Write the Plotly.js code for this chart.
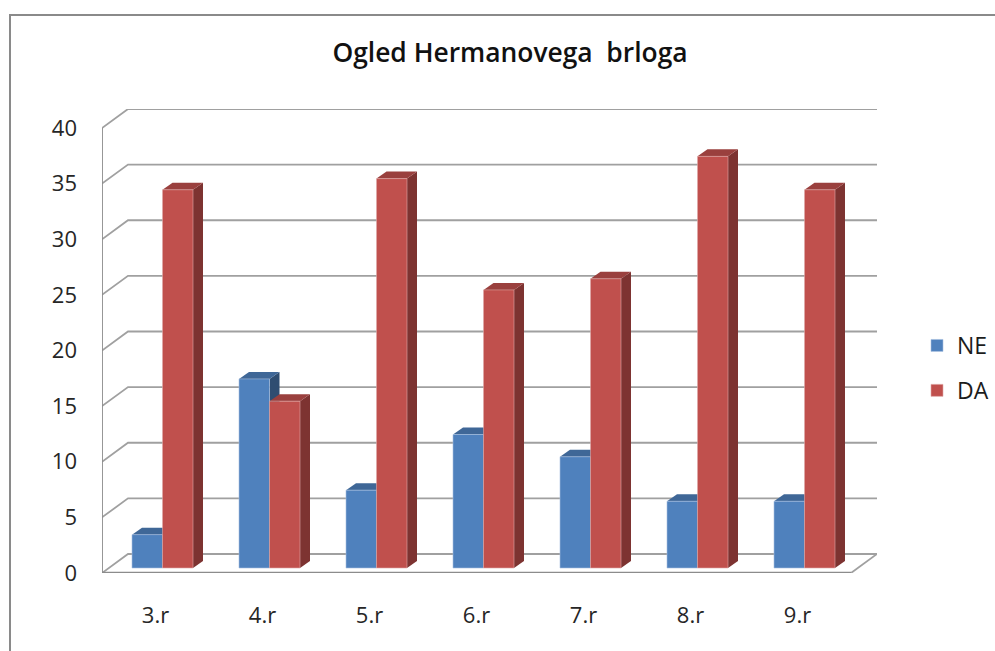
<!DOCTYPE html>
<html>
<head>
<meta charset="utf-8">
<script src="https://cdn.plot.ly/plotly-3.0.1.min.js"></script>
<style>html,body{margin:0;padding:0;background:#fff}#c{width:995px;height:651px}</style>
</head>
<body>
<div id="c"></div>
<script>
const categories = ["3.r","4.r","5.r","6.r","7.r","8.r","9.r"];
const neValues = [3,17,7,12,10,6,6];
const daValues = [34,15,35,25,26,37,34];
const yTicks = [0,5,10,15,20,25,30,35,40];

const W = 995, H = 651;
const plotL = 102, plotR = 877, plotT = 109, plotB = 573;
const pxPerCat = 107, pxPerUnit = 11.125;
const wallDX = 26 / pxPerCat, wallDY = 19 / pxPerUnit;
const barW = 30.5 / pxPerCat, barLift = 5 / pxPerUnit;
const barDX = 10 / pxPerCat, barDY = 7 / pxPerUnit;
const offNE = -23.5 / pxPerCat, offDA = offNE + barW;
const xMin = -0.5, xFront = categories.length - 0.5, xMax = xFront + wallDX;
const yMax = (plotB - plotT) / pxPerUnit;
const xIdx = categories.map((_, i) => i);

const gridCol = '#a0a0a0', axisCol = '#8c8c8c';
const shapes = [];
function poly(pts, fill) {
  shapes.push({type:'path', layer:'below', xref:'x', yref:'y', line:{width:0}, fillcolor:fill,
    path:'M' + pts.map(p => p[0] + ',' + p[1]).join('L') + 'Z'});
}
function pline(pts, col, w) {
  shapes.push({type:'path', layer:'below', xref:'x', yref:'y', line:{color:col, width:w},
    path:'M' + pts.map(p => p[0] + ',' + p[1]).join('L')});
}
// back wall gridlines with the side-wall diagonal
yTicks.forEach(v => pline([[xMin, v],[xMin + wallDX, v + wallDY],[xMax, v + wallDY]], gridCol, 1.8));
// floor right edge, front edge and left edge
pline([[xFront, 0],[xMax, wallDY]], gridCol, 1.8);
pline([[xMin, 0],[xFront, 0]], axisCol, 2.6);
pline([[xMin, 0],[xMin, yTicks[yTicks.length-1]]], axisCol, 1.8);

// depth faces of the bars
function depth(values, off, topCol, sideCol) {
  values.forEach((v, i) => {
    const x0 = i + off, x1 = x0 + barW, t = v + barLift;
    poly([[x1, barLift],[x1 + barDX, barLift + barDY],[x1 + barDX, t + barDY],[x1, t]], sideCol);
    poly([[x0, t],[x0 + barDX, t + barDY],[x1 + barDX, t + barDY],[x1, t]], topCol);
  });
}
depth(neValues, offNE, '#3f6797', '#2f4d71');
depth(daValues, offDA, '#9a403e', '#7d3331');

// chart frame (top and left only)
const fx = px => (px - plotL) / (plotR - plotL);
const fy = py => (plotB - py) / (plotB - plotT);
shapes.push({type:'path', layer:'above', xref:'paper', yref:'paper', line:{color:'#8a8a8a', width:2},
  path:`M${fx(10)},${fy(H)}L${fx(10)},${fy(15)}L${fx(W)},${fy(15)}`});

const traces = [
  {type:'bar', name:'NE', legendgroup:'a', x:xIdx, y:neValues, base:barLift, width:barW, offset:offNE,
   marker:{color:'#4f81bd', line:{color:'#a9c1e0', width:0.6}}, hoverinfo:'y+name'},
  {type:'bar', name:'DA', legendgroup:'b', x:xIdx, y:daValues, base:barLift, width:barW, offset:offDA,
   marker:{color:'#c0504d', line:{color:'#dfa9a7', width:0.6}}, hoverinfo:'y+name'}
];

const fontFam = '"Open Sans", "Noto Sans", sans-serif';
const layout = {
  width:W, height:H, paper_bgcolor:'#fff', plot_bgcolor:'#fff',
  margin:{l:plotL, r:W-plotR, t:plotT, b:H-plotB, pad:0},
  barmode:'overlay', showlegend:true,
  font:{family:fontFam, color:'#1c1c1c'},
  title:{text:'Ogled Hermanovega  brloga', font:{family:fontFam, size:26.4, color:'#111', weight:600},
         x:510/W, xanchor:'center', y:1-53/H, yanchor:'middle', xref:'container', yref:'container'},
  xaxis:{type:'linear', range:[xMin, xMax], tickmode:'array', tickvals:xIdx, ticktext:categories,
         showgrid:false, zeroline:false, showline:false, ticks:'', tickfont:{size:22, color:'#262626'}, ticklabelstandoff:27},
  yaxis:{type:'linear', range:[0, yMax], tickmode:'array', tickvals:yTicks, ticktext:yTicks.map(String),
         showgrid:false, zeroline:false, showline:false, ticks:'', tickfont:{size:22, color:'#262626'}, ticklabelstandoff:24},
  legend:{xref:'container', yref:'container', x:917/W, xanchor:'left', y:1-324/H, yanchor:'top',
          font:{size:23, color:'#1c1c1c'}, tracegroupgap:12, traceorder:'grouped', bgcolor:'rgba(0,0,0,0)'},
  shapes:shapes
};
Plotly.newPlot('c', traces, layout, {displayModeBar:false, staticPlot:true});
</script>
</body>
</html>
